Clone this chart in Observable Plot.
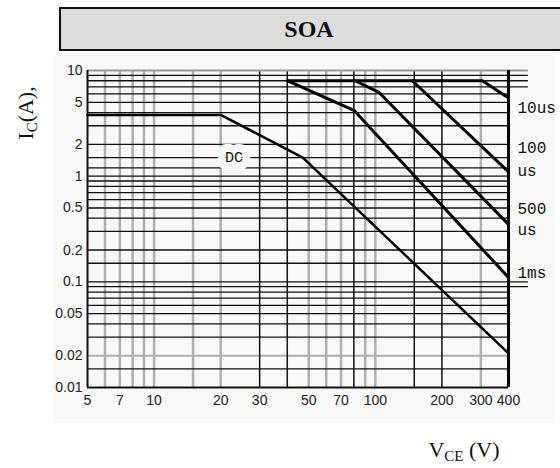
<!DOCTYPE html>
<html><head><meta charset="utf-8">
<script src="https://cdn.jsdelivr.net/npm/d3@7"></script>
<script src="https://cdn.jsdelivr.net/npm/@observablehq/plot@0.6"></script>
<style>
html,body{margin:0;padding:0;background:#fff}
body{width:560px;height:468px;position:relative;overflow:hidden;font-family:"Liberation Sans",Arial,sans-serif}
#scan{position:absolute;left:53px;top:55px;width:502px;height:368px;background:#f8f8f8}
#chart{position:absolute;left:0;top:0}
#title{position:absolute;left:59px;top:7px;width:504px;height:44px;box-sizing:border-box;background:#dcdcdc;border:2.5px solid #111;font:bold 24px "Liberation Serif","Times New Roman",serif;color:#111;display:flex;align-items:center;justify-content:center;padding-right:4px}
</style></head><body>
<div id="scan"></div>
<div id="chart"></div>
<div id="title">SOA</div>
<script>
// Axis ticks
const xTicks = [5, 7, 10, 20, 30, 50, 70, 100, 200, 300, 400];
const yTicks = [10, 5, 2, 1, 0.5, 0.2, 0.1, 0.05, 0.02, 0.01];
// Grid lines (scanned datasheet grid)
const vGridGray = [6, 7, 8, 9, 10, 15, 20, 50, 60, 70, 90, 100, 300];
const vGridBlack = [30, 40, 80, 150, 200];
const hGridBlack = [6, 5, 4, 3, 2, 1.5, 1.2, 1, 0.9, 0.8, 0.7, 0.6, 0.5, 0.4, 0.3, 0.2, 0.15, 0.08, 0.07, 0.06, 0.05, 0.04, 0.03, 0.015];
const hGridGray = [0.02];
const hGridExtended = [9, 8, 7, 0.1, 0.09];
// SOA curves: [V_CE (V), I_C (A)]
const curveDC = [[5, 3.8], [20, 3.8], [47, 1.5], [400, 0.021]];
const curve1ms = [[40, 8], [80, 4.2], [400, 0.11]];
const curve500us = [[81, 8], [104, 6.2], [400, 0.35]];
const curve100us = [[147, 8], [400, 1.1]];
const curve10us = [[40, 8], [305, 8], [400, 5.5]];
// Pulse-width labels at the right edge (text, current level)
const pulseLabels = ["10us", "100", "us", "500", "us", "1ms"];
const pulseLabelAt = [4.4, 1.85, 1.13, 0.49, 0.31, 0.122];
const dcLabel = [{V: 23, I: 1.5, text: "DC"}];

const xDomain = [5, 400], yDomain = [0.01, 10];
const pts = a => a.map(([V, I]) => ({V, I}));
const curve = (a, w) => Plot.line(pts(a), {x: "V", y: "I", stroke: "#000", strokeWidth: w, strokeLinejoin: "round"});

const plot = Plot.plot({
  width: 560, height: 468,
  marginLeft: 87, marginRight: 52, marginTop: 70, marginBottom: 81,
  style: {background: "transparent", fontFamily: "'Liberation Sans', Arial, sans-serif", color: "#222"},
  x: {type: "log", domain: xDomain, axis: null},
  y: {type: "log", domain: yDomain, axis: null},
  marks: [
    Plot.ruleX(vGridGray, {stroke: "#b0b0b0", strokeWidth: 2.5}),
    Plot.ruleY(hGridGray, {stroke: "#b0b0b0", strokeWidth: 2}),
    Plot.ruleX(vGridBlack, {stroke: "#111", strokeWidth: 1.5}),
    Plot.ruleY(hGridBlack, {stroke: "#111", strokeWidth: 1.3}),
    Plot.ruleY(hGridExtended, {x1: xDomain[0], x2: 492, stroke: "#111", strokeWidth: 1.3}),
    Plot.ruleY([yDomain[1]], {x1: xDomain[0], x2: 492, stroke: "#999", strokeWidth: 2}),
    Plot.ruleX([xDomain[0]], {stroke: "#111", strokeWidth: 2}),
    Plot.ruleY([yDomain[0]], {stroke: "#111", strokeWidth: 2}),
    Plot.ruleX([xDomain[1]], {stroke: "#000", strokeWidth: 3}),
    Plot.text(dcLabel, {x: "V", y: "I", text: "text", fontFamily: "'Liberation Mono', monospace", fontSize: 15, fill: "#111", stroke: "#f8f8f8", strokeWidth: 16}),
    curve(curveDC, 2.5),
    curve(curve1ms, 3),
    curve(curve500us, 3),
    curve(curve100us, 3),
    curve(curve10us, 3),
    Plot.text(pulseLabels.map((t, i) => ({t, I: pulseLabelAt[i]})), {x: () => xDomain[1], y: "I", text: "t", dx: 9, textAnchor: "start", fontFamily: "'Liberation Mono', monospace", fontSize: 16, fill: "#111"}),
    // tick labels
    Plot.text(xTicks, {x: d => d, frameAnchor: "bottom", lineAnchor: "top", dy: 8, text: d => String(d), fontSize: 14, fill: "#222"}),
    Plot.text(yTicks, {y: d => d, frameAnchor: "left", textAnchor: "end", dx: -5, text: d => String(d), fontSize: 14, fill: "#222"})
  ]
});

const svg = d3.select(plot);
const yt = svg.append("text")
  .attr("transform", "translate(33,113) rotate(-90)")
  .attr("text-anchor", "middle")
  .attr("font-family", "'Liberation Serif','Times New Roman',serif")
  .attr("font-size", 22).attr("fill", "#111");
yt.append("tspan").text("I");
yt.append("tspan").attr("font-size", 15).attr("dy", 4).text("C");
yt.append("tspan").attr("dy", -4).text("(A),");

const xt = svg.append("text")
  .attr("x", 464).attr("y", 457)
  .attr("text-anchor", "middle")
  .attr("font-family", "'Liberation Serif','Times New Roman',serif")
  .attr("font-size", 22).attr("fill", "#111");
xt.append("tspan").text("V");
xt.append("tspan").attr("font-size", 15).attr("dy", 4).text("CE");
xt.append("tspan").attr("dy", -4).text(" (V)");

document.getElementById("chart").appendChild(plot);
</script>
</body></html>
